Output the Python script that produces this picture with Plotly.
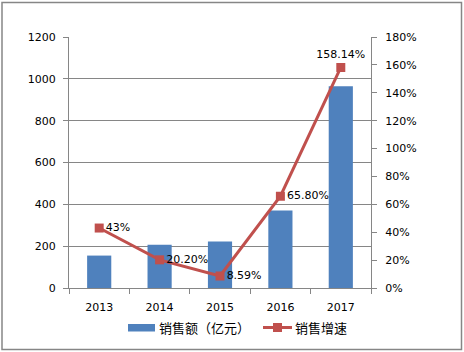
import plotly.graph_objects as go

years = ["2013", "2014", "2015", "2016", "2017"]
sales = [155, 207, 222, 370, 964]
growth = [0.43, 0.2020, 0.0859, 0.6580, 1.5814]
growth_labels = ["43%", "20.20%", "8.59%", "65.80%", "158.14%"]
label_pos = ["middle right", "middle right", "middle right", "middle right", "top center"]
series_names = ["销售额（亿元）", "销售增速"]

BAR = "#4F81BD"
LINE = "#C0504D"
GRID = "#868686"
FONT = "DejaVu Sans, Noto Sans CJK SC"

# plot area in pixels
L, R, T, B = 69, 371, 37, 288
W, H = R - L, B - T


def px(x):
    return (x - L) / W


def py(y):
    return (B - y) / H


fig = go.Figure()
fig.add_trace(go.Bar(
    x=years, y=sales, name=series_names[0], marker=dict(color=BAR, line=dict(width=0)),
    width=0.4, yaxis="y", showlegend=False,
))
fig.add_trace(go.Scatter(
    x=years, y=growth, name=series_names[1], mode="lines+markers+text",
    line=dict(color=LINE, width=3), marker=dict(symbol="square", size=9, color=LINE),
    text=growth_labels, textposition=label_pos,
    textfont=dict(size=11, color="#000000", family=FONT),
    yaxis="y2", cliponaxis=False, showlegend=False,
))

fig.update_layout(
    width=464, height=352,
    margin=dict(l=L, r=464 - R, t=T, b=352 - B),
    paper_bgcolor="white", plot_bgcolor="white",
    font=dict(family=FONT, size=11, color="#000000"),
    showlegend=False,
    xaxis=dict(type="category", showline=True, linecolor=GRID, linewidth=1,
               ticks="outside", tickson="boundaries", ticklen=5, tickcolor=GRID,
               showgrid=False, tickfont=dict(size=11), ticklabelstandoff=9),
    yaxis=dict(range=[0, 1200], dtick=200, showgrid=True, gridcolor=GRID, gridwidth=1,
               showline=True, linecolor=GRID, ticks="outside", ticklen=5, tickcolor=GRID,
               zeroline=False, tickfont=dict(size=11), ticklabelstandoff=5),
    yaxis2=dict(range=[0, 1.8], dtick=0.2, tickformat=".0%", overlaying="y", side="right",
                showgrid=False, showline=True, linecolor=GRID, ticks="outside", ticklen=5,
                tickcolor=GRID, zeroline=False, tickfont=dict(size=11), ticklabelstandoff=6),
)

# outer frame
fig.add_shape(type="rect", xref="paper", yref="paper",
              x0=px(2), x1=px(461.5), y0=py(349.5), y1=py(2.5),
              line=dict(color="#868686", width=1.5), fillcolor="rgba(0,0,0,0)", layer="below")

# custom legend
fig.add_shape(type="rect", xref="paper", yref="paper",
              x0=px(128), x1=px(155), y0=py(331.5), y1=py(324),
              line=dict(width=0), fillcolor=BAR)
fig.add_shape(type="line", xref="paper", yref="paper",
              x0=px(263), x1=px(292), y0=py(327.5), y1=py(327.5),
              line=dict(color=LINE, width=3))
fig.add_shape(type="rect", xref="paper", yref="paper",
              x0=px(273), x1=px(282), y0=py(332), y1=py(323),
              line=dict(width=0), fillcolor=LINE)
for name, x0 in zip(series_names, [156.5, 293]):
    fig.add_annotation(xref="paper", yref="paper", x=px(x0), y=py(327),
                       xanchor="left", yanchor="middle", showarrow=False, text=name,
                       font=dict(size=13, family="Noto Sans CJK SC", color="#000000"))

fig.write_html("out.html")
